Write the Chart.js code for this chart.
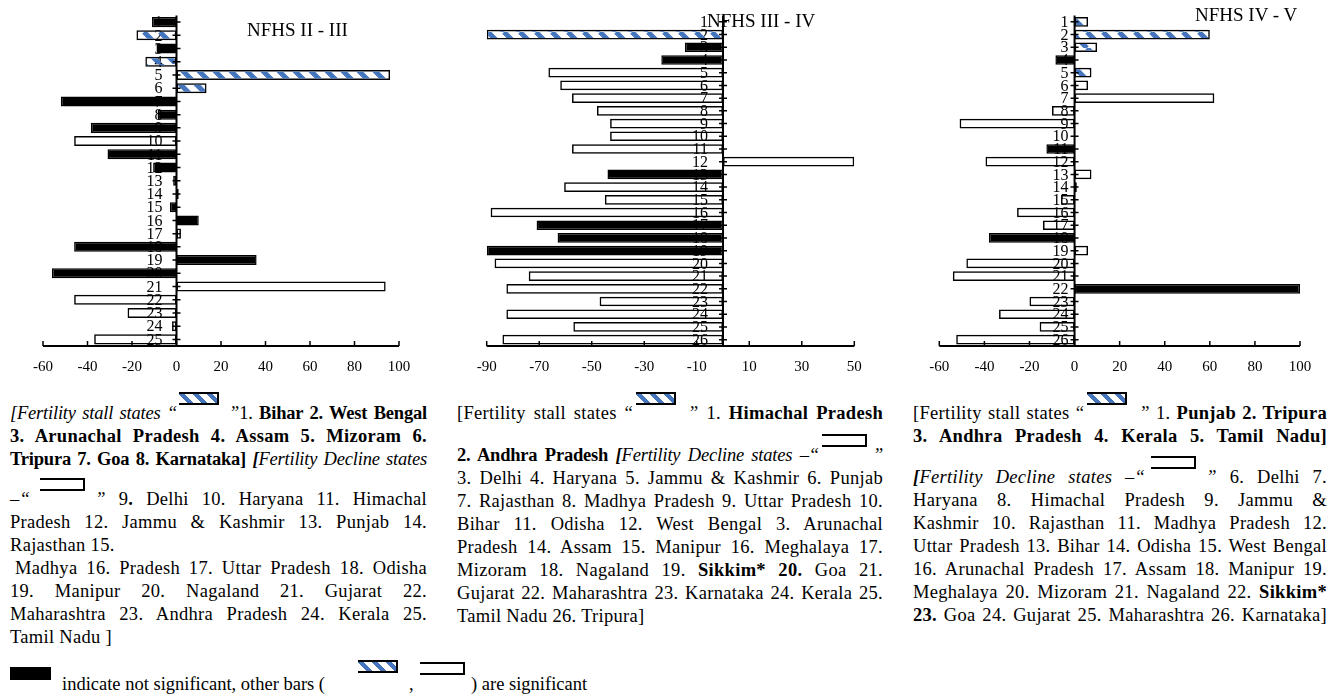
<!DOCTYPE html>
<html>
<head>
<meta charset="utf-8">
<script src="https://cdn.jsdelivr.net/npm/chart.js@4.4.1/dist/chart.umd.min.js"></script>
<style>
  html, body { margin:0; padding:0; background:#fff; }
  body { width:1343px; height:698px; position:relative; overflow:hidden; font-family:"Liberation Serif", serif; color:#000; }
  canvas { position:absolute; top:0; }
  .title { position:absolute; font-size:19px; line-height:19px; white-space:nowrap; }
  .cap { position:absolute; top:402px; font-size:18.5px; letter-spacing:0.3px; }
  .ln { height:23px; line-height:23px; text-align:justify; text-align-last:justify; white-space:nowrap; }
  .ln.l { text-align:left; text-align-last:left; }
  .ln.t { letter-spacing:-0.2px; }
  .ic { display:inline-block; height:13px; box-sizing:border-box; vertical-align:top; position:relative; top:-10px;
        border:2px solid #000; border-left-width:0; }
  .hat { width:40px; background:repeating-linear-gradient(45deg, #fff 0 6px, #4575bd 6px 10px); }
  .wht { width:45px; background:#fff; }
  .abs { position:absolute; }
</style>
</head>
<body>
<canvas id="c1" width="440" height="385" style="left:0"></canvas>
<canvas id="c2" width="450" height="385" style="left:440px"></canvas>
<canvas id="c3" width="448" height="385" style="left:895px"></canvas>

<div class="title" style="left:247px;top:20px">NFHS II - III</div>
<div class="title" style="left:707px;top:11px">NFHS III - IV</div>
<div class="title" style="left:1195px;top:5px">NFHS IV - V</div>

<div class="cap" style="left:10px;width:417px">
  <div class="ln t"><i>[Fertility stall states “</i><span class="ic hat" style="margin:0 10px 0 2px"></span><i>”</i>1. <b>Bihar 2. West Bengal</b></div>
  <div class="ln"><b>3. Arunachal Pradesh 4. Assam 5. Mizoram 6.</b></div>
  <div class="ln t"><b>Tripura 7. Goa 8. Karnataka] <i>[</i></b><i>Fertility Decline states</i></div>
  <div class="ln" style="margin-top:17px"><i>–“</i><span class="ic wht" style="margin:0 10px 0 10px"></span><i>”</i> 9<b>.</b> Delhi 10. Haryana 11. Himachal</div>
  <div class="ln">Pradesh 12. Jammu &amp; Kashmir 13. Punjab 14.</div>
  <div class="ln l">Rajasthan 15.</div>
  <div class="ln" style="padding-left:5px">Madhya 16. Pradesh 17. Uttar Pradesh 18. Odisha</div>
  <div class="ln">19. Manipur 20. Nagaland 21. Gujarat 22.</div>
  <div class="ln">Maharashtra 23. Andhra Pradesh 24. Kerala 25.</div>
  <div class="ln l">Tamil Nadu ]</div>
</div>

<div class="cap" style="left:457px;width:426px">
  <div class="ln">[Fertility stall states “<span class="ic hat" style="margin:0 14px 0 3px"></span>” 1. <b>Himachal Pradesh</b></div>
  <div class="ln t" style="margin-top:19px"><b>2. Andhra Pradesh <i>[</i></b><i>Fertility Decline states –“</i><span class="ic wht" style="margin:0 6px 0 3px"></span><i>”</i></div>
  <div class="ln">3. Delhi 4. Haryana 5. Jammu &amp; Kashmir 6. Punjab</div>
  <div class="ln">7. Rajasthan 8. Madhya Pradesh 9. Uttar Pradesh 10.</div>
  <div class="ln">Bihar 11. Odisha 12. West Bengal 3. Arunachal</div>
  <div class="ln">Pradesh 14. Assam 15. Manipur 16. Meghalaya 17.</div>
  <div class="ln">Mizoram 18. Nagaland 19. <b>Sikkim* 20.</b> Goa 21.</div>
  <div class="ln">Gujarat 22. Maharashtra 23. Karnataka 24. Kerala 25.</div>
  <div class="ln l">Tamil Nadu 26. Tripura]</div>
</div>

<div class="cap" style="left:913px;width:414px">
  <div class="ln">[Fertility stall states “<span class="ic hat" style="margin:0 14px 0 3px"></span>” 1. <b>Punjab 2. Tripura</b></div>
  <div class="ln"><b>3. Andhra Pradesh 4. Kerala 5. Tamil Nadu]</b></div>
  <div class="ln" style="margin-top:18px"><b><i>[</i></b><i>Fertility Decline states –“</i><span class="ic wht" style="margin:0 10px 0 6px"></span><i>”</i> 6. Delhi 7.</div>
  <div class="ln">Haryana 8. Himachal Pradesh 9. Jammu &amp;</div>
  <div class="ln">Kashmir 10. Rajasthan 11. Madhya Pradesh 12.</div>
  <div class="ln">Uttar Pradesh 13. Bihar 14. Odisha 15. West Bengal</div>
  <div class="ln">16. Arunachal Pradesh 17. Assam 18. Manipur 19.</div>
  <div class="ln">Meghalaya 20. Mizoram 21. Nagaland 22. <b>Sikkim*</b></div>
  <div class="ln"><b>23.</b> Goa 24. Gujarat 25. Maharashtra 26. Karnataka]</div>
</div>

<div class="abs" style="left:10px;top:667px;width:41px;height:13px;background:#000"></div>
<div class="abs" style="left:62px;top:673px;font-size:18.5px;line-height:23px;white-space:nowrap">indicate not significant, other bars (</div>
<div class="abs ic hat" style="left:358px;top:660px"></div>
<div class="abs" style="left:409px;top:673px;font-size:18.5px;line-height:23px">,</div>
<div class="abs ic wht" style="left:420px;top:662px"></div>
<div class="abs" style="left:471px;top:673px;font-size:18.5px;line-height:23px;white-space:nowrap">) are significant</div>

<script>
// ---------- data ----------
const cats1 = ['1','2','3','4','5','6','7','8','9','10','11','12','13','14','15','16','17','18','19','20','21','22','23','24','25'];
const vals1 = [-11, -18, -9, -14, 96, 13.5, -52, -8.5, -38.5, -46, -31, -10.5, -1.5, 1, -3, 10, 2, -46, 36, -56, 94, -46, -22, -2, -37];
const types1 = ['n','s','n','s','s','s','n','n','n','d','n','n','n','n','n','n','d','n','n','n','d','d','d','d','d'];
const xTicks1 = [-60, -40, -20, 0, 20, 40, 60, 80, 100];

const cats2 = ['1','2','3','4','5','6','7','8','9','10','11','12','13','14','15','16','17','18','19','20','21','22','23','24','25','26'];
const vals2 = [0, -90, -14.5, -23.5, -66.5, -62, -57.5, -48, -43, -43, -57.5, 50, -44, -60.5, -45, -88.5, -71, -63, -90, -87, -74, -82.5, -47, -82.5, -57, -84];
const types2 = ['s','s','n','n','d','d','d','d','d','d','d','d','n','d','d','d','n','n','n','d','d','d','d','d','d','d'];
const xTicks2 = [-90, -70, -50, -30, -10, 10, 30, 50];

const cats3 = ['1','2','3','4','5','6','7','8','9','10','11','12','13','14','15','16','17','18','19','20','21','22','23','24','25','26'];
const vals3 = [6, 60, 10, -8.5, 7.5, 6, 62, -10, -51, 0, -12.5, -39.5, 7.5, 1, -6, -25.5, -14, -38, 6, -48, -54, 100, -20, -33.5, -15.5, -52.5];
const types3 = ['s','s','s','n','s','d','d','d','d','d','n','d','d','n','d','d','d','n','d','d','d','n','d','d','d','d'];
const xTicks3 = [-60, -40, -20, 0, 20, 40, 60, 80, 100];

// ---------- styling ----------
function makeHatch() {
  const c = document.createElement('canvas');
  c.width = 16; c.height = 16;
  const g = c.getContext('2d');
  g.strokeStyle = '#4575bd';
  g.lineWidth = 5;
  g.beginPath();
  for (const k of [-16, 0, 16]) { g.moveTo(k, 0); g.lineTo(k + 16, 16); }
  g.stroke();
  return g.createPattern(c, 'repeat');
}
const hatch = makeHatch();
function fillFor(t) { return t === 'n' ? '#000' : (t === 's' ? hatch : 'rgba(255,255,255,0)'); }

// category labels beside the zero line (under the bars)
const labelPlugin = {
  id: 'zeroLabels',
  beforeDatasetsDraw(chart, args, opts) {
    const { ctx, scales: { x, y } } = chart;
    const x0 = x.getPixelForValue(0);
    ctx.save();
    ctx.font = '16px "Liberation Serif"';
    ctx.fillStyle = '#000';
    ctx.textAlign = 'right';
    ctx.textBaseline = 'middle';
    chart.data.labels.forEach((lab, i) => {
      ctx.fillText(lab, x0 - opts.gap, y.getPixelForTick(i) + 1);
    });
    ctx.restore();
  }
};

const axesPlugin = {
  id: 'axesDraw',
  afterDatasetsDraw(chart) {
    const { ctx, chartArea: a, scales: { x, y } } = chart;
    const x0 = x.getPixelForValue(0);
    ctx.save();
    ctx.strokeStyle = '#000';
    ctx.lineWidth = 2;
    ctx.beginPath();
    ctx.moveTo(x0, a.top); ctx.lineTo(x0, a.bottom + 1);
    ctx.moveTo(a.left, a.bottom); ctx.lineTo(a.right, a.bottom);
    ctx.stroke();
    ctx.lineWidth = 1.5;
    ctx.beginPath();
    y.ticks.forEach((t, i) => { const py = y.getPixelForTick(i); ctx.moveTo(x0 - 4, py); ctx.lineTo(x0 + 4, py); });
    x.ticks.forEach((t, i) => { const px = x.getPixelForTick(i); ctx.moveTo(px, a.bottom); ctx.lineTo(px, a.bottom - 5); });
    ctx.stroke();
    ctx.restore();
  }
};

function makeChart(id, labels, values, types, ticks, padL, padR, gap) {
  return new Chart(document.getElementById(id), {
    type: 'bar',
    data: {
      labels: labels,
      datasets: [{
        data: values,
        backgroundColor: types.map(fillFor),
        borderColor: '#000',
        borderWidth: 1.5,
        borderSkipped: false,
        barPercentage: 0.76,
        categoryPercentage: 1
      }]
    },
    options: {
      indexAxis: 'y',
      responsive: false,
      animation: false,
      layout: { padding: { left: padL, right: padR, top: 15.5, bottom: 0 } },
      plugins: { legend: { display: false }, tooltip: { enabled: false }, title: { display: false }, zeroLabels: { gap: gap } },
      scales: {
        x: {
          type: 'linear',
          min: ticks[0], max: ticks[ticks.length - 1],
          afterBuildTicks: s => { s.ticks = ticks.map(v => ({ value: v })); },
          afterFit: s => { s.height = 39; },
          ticks: { font: { family: 'Liberation Serif', size: 15 }, color: '#000', padding: 4, maxRotation: 0, autoSkip: false, callback: v => String(v) },
          grid: { display: false },
          border: { display: false }
        },
        y: {
          position: { x: 0 },
          afterFit: s => { s.paddingTop = 0; s.paddingBottom = 0; },
          ticks: { display: false, autoSkip: false },
          grid: { display: false },
          border: { display: false }
        }
      }
    },
    plugins: [labelPlugin, axesPlugin]
  });
}

makeChart('c1', cats1, vals1, types1, xTicks1, 43, 41, 14);
makeChart('c2', cats2, vals2, types2, xTicks2, 46.7, 35.7, 15);
makeChart('c3', cats3, vals3, types3, xTicks3, 44.3, 43, 6);
</script>
</body>
</html>
